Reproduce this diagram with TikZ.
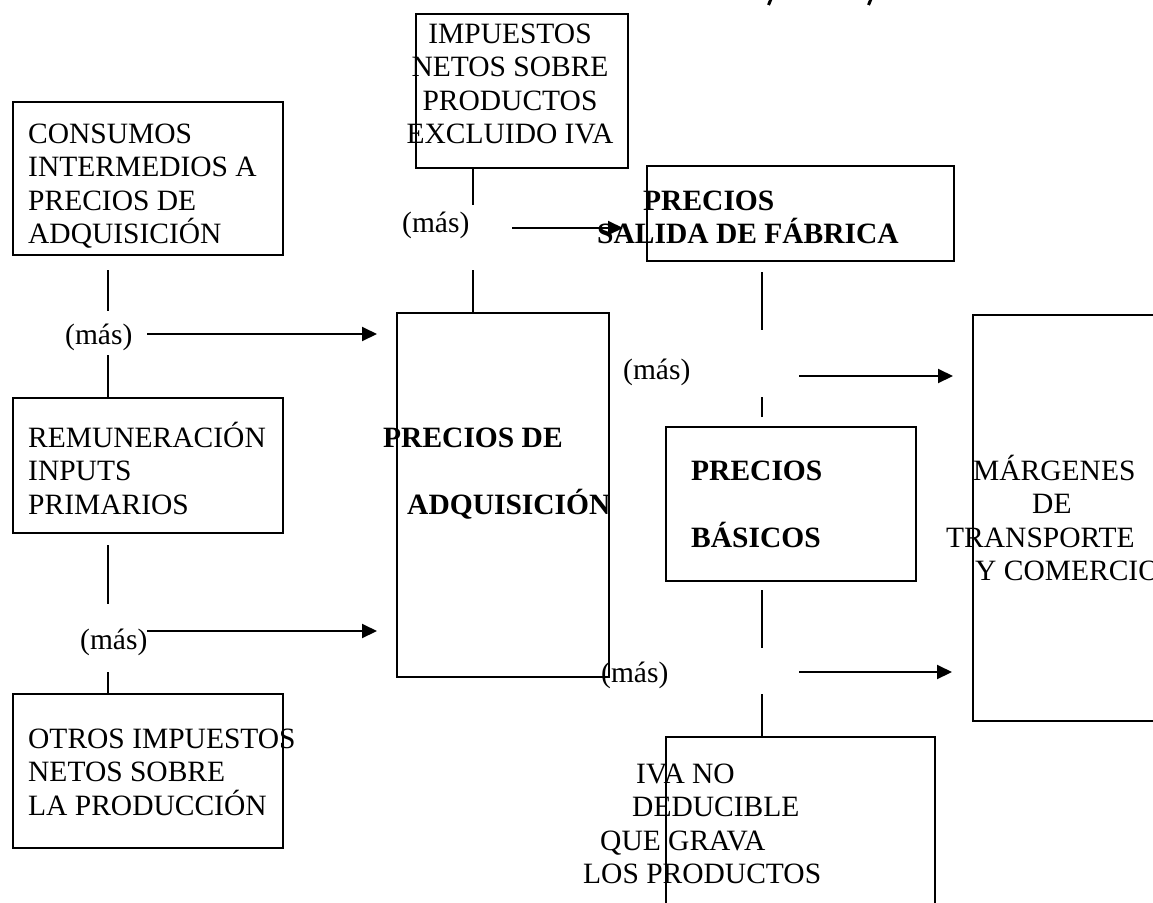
\documentclass[tikz,border=0pt]{standalone}
\usepackage{fontspec}
\setmainfont{Liberation Serif}
\usetikzlibrary{arrows.meta}
% stacked lines: left aligned / centred, baseline on the first line
\newcommand\linesL[1]{\vtop{\halign{##\hfil\cr#1\crcr}}}
\newcommand\linesC[1]{\vtop{\halign{\hfil##\hfil\cr#1\crcr}}}
\begin{document}
\begin{tikzpicture}[x=1pt,y=-1pt,
  box/.style={draw, line width=2pt, inner sep=0pt, anchor=north west},
  txt/.style={inner sep=0pt, anchor=base west, font=\fontsize{29.5}{33.5}\selectfont},
  btxt/.style={txt, font=\fontsize{29.5}{33.5}\selectfont\bfseries},
  link/.style={line width=2pt},
  arr/.style={line width=2pt, -{Triangle[length=15pt,width=14pt]}}]
\fill[white] (0,0) rectangle (1153,902);
\useasboundingbox (0,0) rectangle (1153,902);

% italic descenders cut off at the top edge
\draw[line width=3pt] (768.5,5) -- (771,-1);
\draw[line width=3pt] (868.5,5) -- (871,-1);

% boxes
\node[box, minimum width=270pt, minimum height=153pt] (A) at (12,101) {};
\node[box, minimum width=270pt, minimum height=135pt] (B) at (12,397) {};
\node[box, minimum width=270pt, minimum height=154pt] (C) at (12,693) {};
\node[box, minimum width=212pt, minimum height=364pt] (D) at (396,312) {};
\node[box, minimum width=212pt, minimum height=154pt] (E) at (415,13) {};
\node[box, minimum width=307pt, minimum height=95pt]  (F) at (646,165) {};
\node[box, minimum width=250pt, minimum height=154pt] (G) at (665,426) {};
\node[box, minimum width=220pt, minimum height=406pt] (M) at (972,314) {};
\node[box, minimum width=269pt, minimum height=220pt] (H) at (665,736) {};

% box texts
\node[txt] (tA) at (28,143) {\linesL{CONSUMOS\cr INTERMEDIOS A\cr PRECIOS DE\cr ADQUISICIÓN}};
\node[txt] (tB) at (28,447) {\linesL{REMUNERACIÓN\cr INPUTS\cr PRIMARIOS}};
\node[txt] (tC) at (28,748) {\linesL{OTROS IMPUESTOS\cr NETOS SOBRE\cr LA PRODUCCIÓN}};
\node[txt, anchor=base] (tE) at (510,43) {\linesC{IMPUESTOS\cr NETOS SOBRE\cr PRODUCTOS\cr EXCLUIDO IVA}};
\node[btxt] (tF) at (597,210) {\linesL{\hspace*{46pt}PRECIOS\cr SALIDA DE FÁBRICA}};
\node[btxt] (tD) at (383,447) {\linesL{PRECIOS DE\cr\cr\hspace*{24pt}ADQUISICIÓN}};
\node[btxt] (tG) at (691,480) {\linesL{PRECIOS\cr\cr BÁSICOS}};
\node[txt] (tM) at (946,480) {\linesL{\hspace*{27pt}MÁRGENES\cr\hspace*{86pt}DE\cr TRANSPORTE\cr\hspace*{29pt}Y COMERCIO}};
\node[txt] (tH) at (583,783) {\linesL{\hspace*{53pt}IVA NO\cr\hspace*{49pt}DEDUCIBLE\cr\hspace*{17pt}QUE GRAVA\cr LOS PRODUCTOS}};

% "(más)" labels
\node[txt] (L1) at (65,344) {(más)};
\node[txt] (L2) at (80,649) {(más)};
\node[txt] (L3) at (402,232) {(más)};
\node[txt] (L4) at (623,379) {(más)};
\node[txt] (L5) at (601,682) {(más)};

% columns of the vertical links
\coordinate (xl) at (108,0);
\coordinate (xm) at (473,0);
\coordinate (xr) at (762,0);

% left column
\draw[link] (xl |- A.south) ++(0,14) -- ++(0,41);
\draw[link] (xl |- B.north) -- ++(0,-42);
\draw[link] (xl |- B.south) ++(0,11) -- ++(0,59);
\draw[link] (xl |- C.north) -- ++(0,-21);
% middle column
\draw[link] (xm |- E.south) -- ++(0,36);
\draw[link] (xm |- D.north) -- ++(0,-42);
% right column
\draw[link] (xr |- F.south) ++(0,10) -- ++(0,58);
\draw[link] (xr |- G.north) ++(0,-9) -- ++(0,-20);
\draw[link] (xr |- G.south) ++(0,8) -- ++(0,58);
\draw[link] (xr |- H.north) -- ++(0,-42);

% arrows
\coordinate (s1) at (147,334);
\coordinate (s2) at (147,631);
\coordinate (s3) at (512,228);
\coordinate (s4) at (799,376);
\coordinate (s5) at (799,672);
\draw[arr] (s1) -- ([xshift=-19pt]D.west |- s1);
\draw[arr] (s2) -- ([xshift=-19pt]D.west |- s2);
\draw[arr] (s3) -- ([xshift=-23pt]F.west |- s3);
\draw[arr] (s4) -- ([xshift=-19pt]M.west |- s4);
\draw[arr] (s5) -- ([xshift=-20pt]M.west |- s5);
\end{tikzpicture}
\end{document}
